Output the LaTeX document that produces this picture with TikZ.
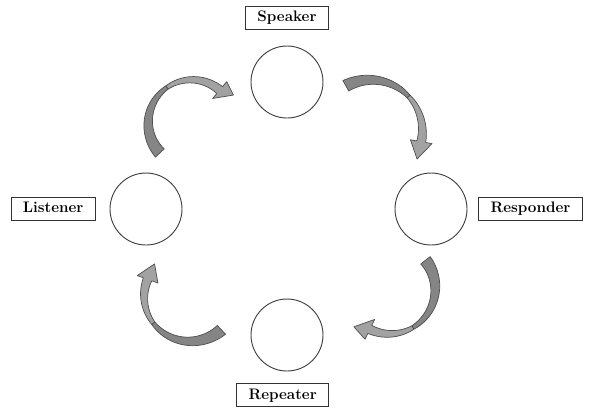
\documentclass[tikz,border=0pt]{standalone}
\usepackage{tikz}
\usetikzlibrary{positioning,calc}
\definecolor{tailgray}{HTML}{858585}
\definecolor{headgray}{HTML}{A2A2A2}
\definecolor{edgegray}{HTML}{4E4E4E}
\tikzset{
  role/.style={circle,draw=black!75,line width=0.8pt,minimum size=2.16cm,inner sep=0pt},
  rolelbl/.style={draw=black!80,line width=0.7pt,fill=white,inner xsep=10pt,inner ysep=3.5pt,
    text height=9.5pt,text depth=3pt,font=\fontsize{13}{15}\selectfont\bfseries},
  tailpart/.style={fill=tailgray,draw=edgegray,line width=0.6pt,line join=round},
  headpart/.style={fill=headgray,draw=edgegray,line width=0.6pt,line join=round}
}
% curved block arrow: cx, cy, tail angle, twist angle, base angle, tip angle, r tail, r base, r tip
\newcommand{\cyclearrow}[9]{
  \begin{scope}[declare function={arcr(\t)=#7+(#8-#7)*(\t-(#3))/((#5)-(#3));
      arcwa(\t)=12+(4-12)*(\t-(#3))/((#4)-(#3));
      arcwb(\t)=4+(9-4)*(\t-(#4))/((#5)-(#4));}]
    \filldraw[tailpart] plot[domain=#3:#4,samples=30,variable=\t]
        ({#1+(arcr(\t)+arcwa(\t)/2)*cos(\t)},{#2+(arcr(\t)+arcwa(\t)/2)*sin(\t)})
      -- plot[domain=#4:#3,samples=30,variable=\t]
        ({#1+(arcr(\t)-arcwa(\t)/2)*cos(\t)},{#2+(arcr(\t)-arcwa(\t)/2)*sin(\t)}) -- cycle;
    \filldraw[headpart] plot[domain=#4:#5,samples=30,variable=\t]
        ({#1+(arcr(\t)+arcwb(\t)/2)*cos(\t)},{#2+(arcr(\t)+arcwb(\t)/2)*sin(\t)})
      -- ({#1+(#8+11)*cos(#5)},{#2+(#8+11)*sin(#5)})
      -- ({#1+#9*cos(#6)},{#2+#9*sin(#6)})
      -- ({#1+(#8-11)*cos(#5)},{#2+(#8-11)*sin(#5)})
      -- plot[domain=#5:#4,samples=30,variable=\t]
        ({#1+(arcr(\t)-arcwb(\t)/2)*cos(\t)},{#2+(arcr(\t)-arcwb(\t)/2)*sin(\t)}) -- cycle;
  \end{scope}
}

\begin{document}
\begin{tikzpicture}[x=0.03cm,y=-0.03cm]
  \useasboundingbox (0,0) rectangle (590,408);
  % the four roles
  \node[role] (speaker) at (287,82) {};
  \node[role] (listener) at (146,209) {};
  \node[role] (responder) at (431,209) {};
  \node[role] (repeater) at (287,335) {};
  % their labels
  \node[rolelbl,above=0.48cm of speaker] (speakerlbl) {Speaker};
  \node[rolelbl,left=0.42cm of listener] (listenerlbl) {Listener};
  \node[rolelbl,right=0.33cm of responder] (responderlbl) {Responder};
  \node[rolelbl,below=0.36cm of repeater,xshift=-0.13cm] (repeaterlbl) {Repeater};
  % arrows going round
  \cyclearrow{192}{123}{137}{235}{310}{326}{44}{43}{50}
  \cyclearrow{372}{133}{241}{315}{370}{390}{54}{50}{52}
  \cyclearrow{390}{288}{-38}{60}{116}{133}{45}{46}{53}
  \cyclearrow{188}{294}{47}{140}{200}{222}{49}{43}{45}
\end{tikzpicture}
\end{document}
